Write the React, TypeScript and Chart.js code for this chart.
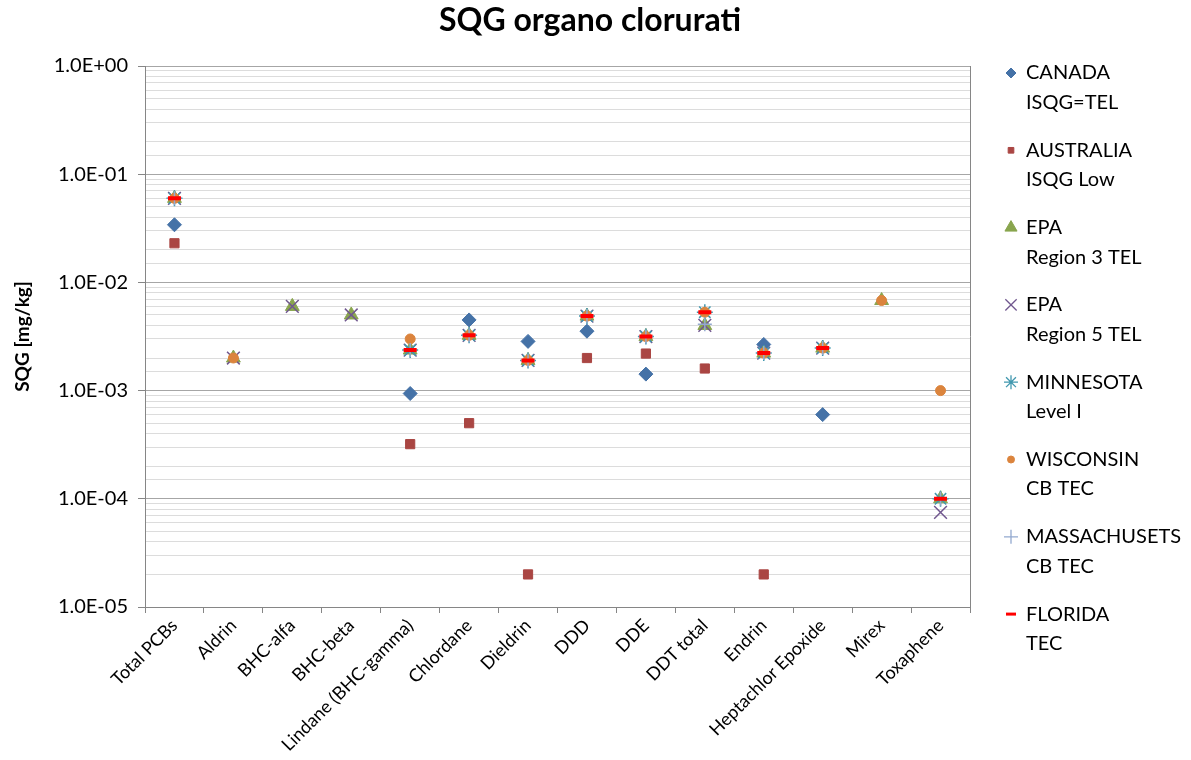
import React, { useEffect, useRef } from 'react';
import { Chart, registerables } from 'chart.js';
import { drawPoint } from 'chart.js/helpers';

Chart.register(...registerables);

const categories = [
  'Total PCBs', 'Aldrin', 'BHC-alfa', 'BHC-beta', 'Lindane (BHC-gamma)', 'Chlordane',
  'Dieldrin', 'DDD', 'DDE', 'DDT total', 'Endrin', 'Heptachlor Epoxide', 'Mirex', 'Toxaphene',
];

const canada = [0.0341, null, null, null, 0.00094, 0.0045, 0.00285, 0.00354, 0.00142, null, 0.00267, 0.0006, null, null];
const australia = [0.023, null, null, null, 0.00032, 0.0005, 0.00002, 0.002, 0.0022, 0.0016, 0.00002, null, null, null];
const epaRegion3 = [0.0598, 0.002, 0.006, 0.005, 0.00237, 0.00324, 0.0019, 0.00488, 0.00316, 0.0040, 0.00222, 0.00247, 0.0068, 0.0001];
const epaRegion5 = [0.0598, 0.002, 0.006, 0.005, 0.00237, 0.00324, 0.0019, 0.00488, 0.00316, 0.0040, 0.00222, 0.00247, null, 0.000075];
const minnesota = [0.0598, null, null, null, 0.00237, 0.00324, 0.0019, 0.00488, 0.00316, 0.0053, 0.00222, 0.00247, null, 0.0001];
const wisconsin = [0.0598, 0.002, null, null, 0.003, 0.00324, 0.0019, 0.00488, 0.00316, 0.0053, 0.00222, 0.00247, 0.0068, 0.001];
const massachusetts = [0.0598, null, null, null, 0.00237, 0.00324, 0.0019, 0.00488, 0.00316, 0.0041, 0.00222, 0.00247, null, 0.0001];
const florida = [0.0598, null, null, null, 0.00237, 0.00324, 0.0019, 0.00488, 0.00316, 0.0053, 0.00222, 0.00247, null, 0.0001];

const seriesNames = [
  ['CANADA', 'ISQG=TEL'],
  ['AUSTRALIA', 'ISQG Low'],
  ['EPA', 'Region 3 TEL'],
  ['EPA', 'Region 5 TEL'],
  ['MINNESOTA', 'Level I'],
  ['WISCONSIN', 'CB TEC'],
  ['MASSACHUSETS', 'CB TEC'],
  ['FLORIDA', 'TEC'],
];

const FONT = 'Lato, "Open Sans", "DejaVu Sans", sans-serif';

const styles = [
  { data: canada, color: '#4572A7', style: 'rectRot', r: 7, bw: 1, lr: 5, lbw: 1 },
  { data: australia, color: '#AA4643', style: 'rect', r: 6.5, bw: 1, lr: 4, lbw: 1 },
  { data: epaRegion3, color: '#89A54E', style: 'triangle', r: 8, bw: 1, lr: 7, lbw: 1 },
  { data: epaRegion5, color: '#71588F', style: 'crossRot', r: 9, bw: 1.5, lr: 8, lbw: 1.3 },
  { data: minnesota, color: '#4198AF', style: 'star', r: 8, bw: 1.5, lr: 7, lbw: 1.3 },
  { data: wisconsin, color: '#DB843D', style: 'circle', r: 5, bw: 1, lr: 3.5, lbw: 1 },
  { data: massachusetts, color: '#93A9CF', style: 'cross', r: 7, bw: 1.5, lr: 7, lbw: 1.3 },
  { data: florida, color: '#FF0000', style: 'line', r: 6.5, bw: 4, lr: 5, lbw: 3 },
];

const isDecade = (v: number) => {
  const l = Math.log10(v);
  return Math.abs(l - Math.round(l)) < 1e-9;
};

const fmtExp = (v: number) => {
  const e = Math.round(Math.log10(v));
  return '1.0E' + (e < 0 ? '-' : '+') + String(Math.abs(e)).padStart(2, '0');
};

const decorPlugin = {
  id: 'decor',
  afterDraw(chart: any) {
    const ctx = chart.ctx;
    const area = chart.chartArea;
    ctx.save();
    // right border of plot area
    ctx.strokeStyle = '#868686';
    ctx.lineWidth = 1;
    ctx.beginPath();
    ctx.moveTo(Math.round(area.right) + 0.5, area.top);
    ctx.lineTo(Math.round(area.right) + 0.5, area.bottom);
    ctx.stroke();

    // title
    ctx.fillStyle = '#000';
    ctx.font = 'bold 32px ' + FONT;
    ctx.textAlign = 'center';
    ctx.textBaseline = 'middle';
    ctx.fillText('SQG organo clorurati', 590, 21);

    // legend
    ctx.font = '20px ' + FONT;
    ctx.textAlign = 'left';
    styles.forEach((s, i) => {
      const y = 73 + i * 77.3;
      ctx.fillStyle = s.color;
      ctx.strokeStyle = s.color;
      ctx.lineWidth = s.lbw;
      drawPoint(ctx, { pointStyle: s.style, rotation: 0, radius: s.lr, borderWidth: s.lbw }, 1011, y);
      ctx.fillStyle = '#000';
      ctx.textBaseline = 'middle';
      ctx.fillText(seriesNames[i][0], 1026, y);
      ctx.fillText(seriesNames[i][1], 1026, y + 29.5);
    });
    ctx.restore();
  },
};

export default function App() {
  const ref = useRef<HTMLCanvasElement | null>(null);
  useEffect(() => {
    document.body.style.margin = '0';
    const canvas = ref.current;
    if (!canvas) return;
    const chart = new Chart(canvas, {
      type: 'line',
      data: {
        labels: categories,
        datasets: styles.map((s, i) => ({
          label: seriesNames[i].join(' '),
          data: s.data,
          order: styles.length - i,
          showLine: false,
          pointStyle: s.style as any,
          pointRadius: s.r,
          pointHoverRadius: s.r,
          pointBorderWidth: s.bw,
          pointBackgroundColor: s.color,
          pointBorderColor: s.color,
          borderColor: s.color,
          backgroundColor: s.color,
        })),
      },
      options: {
        responsive: false,
        animation: false,
        events: [],
        layout: { padding: { left: 0, top: 66, right: 221, bottom: 0 } },
        plugins: {
          legend: { display: false },
          title: { display: false },
          tooltip: { enabled: false },
        },
        scales: {
          x: {
            type: 'category',
            offset: true,
            afterFit: (scale: any) => { scale.height = 153; },
            grid: {
              offset: true,
              drawOnChartArea: false,
              drawTicks: true,
              tickLength: 6,
              color: '#868686',
            },
            border: { color: '#868686', width: 1 },
            ticks: {
              autoSkip: false,
              maxRotation: 45,
              minRotation: 45,
              padding: 2,
              color: '#000',
              font: { family: FONT, size: 18 },
            },
          },
          y: {
            type: 'logarithmic',
            min: 1e-5,
            max: 1,
            afterFit: (scale: any) => { scale.width = 145; },
            grid: {
              color: (c: any) => (c.tick && isDecade(c.tick.value) ? '#a6a6a6' : '#dcdcdc'),
              tickColor: (c: any) => (c.tick && isDecade(c.tick.value) ? '#868686' : 'rgba(0,0,0,0)'),
              tickLength: 7,
            },
            border: { color: '#868686', width: 1 },
            ticks: {
              autoSkip: false,
              padding: 10,
              color: '#000',
              font: { family: FONT, size: 20 },
              callback: (v: any) => (isDecade(Number(v)) ? fmtExp(Number(v)) : ''),
            },
            title: {
              display: true,
              text: 'SQG [mg/kg]',
              color: '#000',
              font: { family: FONT, size: 19, weight: 'bold' },
              padding: { top: 11, bottom: 0 },
            },
          },
        },
      },
      plugins: [decorPlugin],
    });
    return () => chart.destroy();
  }, []);
  return <canvas ref={ref} width={1191} height={760} style={{ display: 'block' }} />;
}
